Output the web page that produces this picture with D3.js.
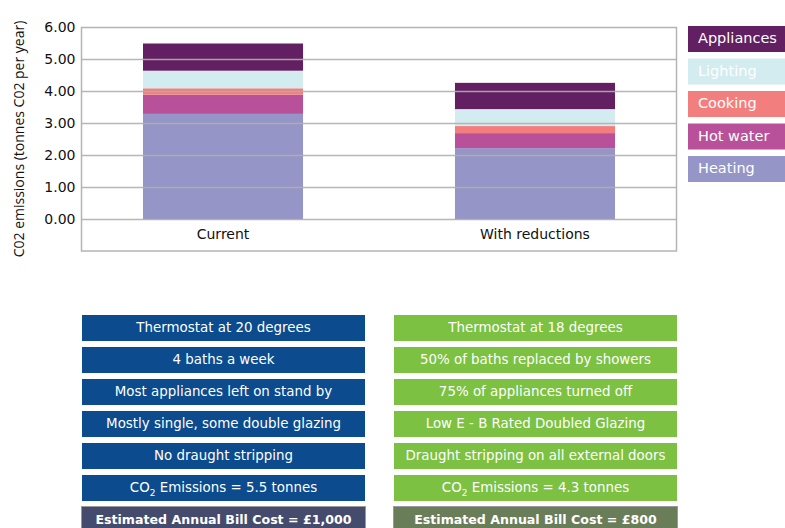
<!DOCTYPE html>
<html><head><meta charset="utf-8">
<script src="https://cdn.jsdelivr.net/npm/d3@7"></script>
<style>body{margin:0;background:#fff}svg{display:block}</style>
</head><body>
<svg id="c" width="785" height="528"></svg>
<script>
const categories = ["Current", "With reductions"];
const seriesNames = ["Heating", "Hot water", "Cooking", "Lighting", "Appliances"];
const heating   = [3.30, 2.23];
const hotWater  = [0.60, 0.47];
const cooking   = [0.20, 0.22];
const lighting  = [0.55, 0.53];
const appliances= [0.85, 0.82];
const colors = ["#9595c7", "#b8519a", "#f37e7e", "#d3ecf0", "#622062"];
const yTicks = [0, 1, 2, 3, 4, 5, 6];
const currentItems = ["Thermostat at 20 degrees", "4 baths a week", "Most appliances left on stand by",
  "Mostly single, some double glazing", "No draught stripping", "CO2 Emissions = 5.5 tonnes"];
const reducedItems = ["Thermostat at 18 degrees", "50% of baths replaced by showers", "75% of appliances turned off",
  "Low E - B Rated Doubled Glazing", "Draught stripping on all external doors", "CO2 Emissions = 4.3 tonnes"];
const billLabels = ["Estimated Annual Bill Cost = £1,000", "Estimated Annual Bill Cost = £800"];

const FONT = "DejaVu Sans";
const svg = d3.select("#c");
const plot = {l: 81.5, r: 676.5, t: 27.5, b: 251};
const y = d3.scaleLinear().domain([0, 6]).range([219.5, 27.5]);
const x = d3.scaleBand().domain(categories).range([67, 691]).paddingInner(0.487).paddingOuter(0.2436);

const rows = categories.map((c, i) => ({cat: c, Heating: heating[i], "Hot water": hotWater[i], Cooking: cooking[i], Lighting: lighting[i], Appliances: appliances[i]}));
const stack = d3.stack().keys(seriesNames)(rows);

svg.append("rect").attr("x", plot.l).attr("y", plot.t).attr("width", plot.r - plot.l).attr("height", plot.b - plot.t)
  .attr("fill", "#fff").attr("stroke", "#b4b4b4").attr("stroke-width", 1.5);

svg.append("g").selectAll("g").data(stack).join("g").attr("fill", (d, i) => colors[i])
  .selectAll("rect").data(d => d).join("rect")
  .attr("x", d => x(d.data.cat)).attr("width", x.bandwidth())
  .attr("y", d => y(d[1])).attr("height", d => y(d[0]) - y(d[1]));

svg.append("g").selectAll("line").data(yTicks.slice(0, -1)).join("line")
  .attr("x1", plot.l).attr("x2", plot.r).attr("y1", d => y(d)).attr("y2", d => y(d))
  .attr("stroke", "#b0b0b0").attr("stroke-width", 1.5).attr("opacity", 0.9);

const yAxis = d3.axisLeft(y).tickValues(yTicks).tickFormat(d3.format(".2f")).tickSize(0).tickPadding(6);
const ga = svg.append("g").attr("transform", `translate(${plot.l},0)`).call(yAxis);
ga.select(".domain").remove();
ga.selectAll("text").attr("font-family", FONT).attr("font-size", 14).attr("fill", "#111");

const xAxis = d3.axisBottom(x).tickSize(0).tickPadding(10);
const gx = svg.append("g").attr("transform", `translate(0,${y(0)})`).call(xAxis);
gx.select(".domain").remove();
gx.selectAll("text").attr("font-family", FONT).attr("font-size", 14).attr("fill", "#111");

svg.append("text").attr("transform", "translate(24,139) rotate(-90)").attr("text-anchor", "middle")
  .attr("font-family", "Open Sans").attr("font-size", 14).attr("fill", "#111")
  .text("C02 emissions (tonnes C02 per year)");

const leg = svg.append("g");
seriesNames.slice().reverse().forEach((s, i) => {
  const ci = seriesNames.indexOf(s);
  const g = leg.append("g").attr("transform", `translate(688,${26 + i * 32.5})`);
  g.append("rect").attr("width", 100).attr("height", 26).attr("fill", colors[ci]);
  g.append("text").attr("x", 10).attr("y", 17).attr("font-family", FONT).attr("font-size", 14.5)
    .attr("fill", "#fff").text(s);
});

function column(items, x0, color, bill, billColor) {
  const w = 283;
  items.forEach((t, i) => {
    const y0 = 315 + i * 32;
    svg.append("rect").attr("x", x0).attr("y", y0).attr("width", w).attr("height", 26).attr("fill", color);
    const tx = svg.append("text").attr("x", x0 + w / 2).attr("y", y0 + 17).attr("text-anchor", "middle")
      .attr("font-family", FONT).attr("font-size", 13.4).attr("fill", "#fff");
    if (t.startsWith("CO2")) {
      tx.append("tspan").text("CO");
      tx.append("tspan").attr("font-size", 9).attr("dy", 4).text("2");
      tx.append("tspan").attr("dy", -4).text(t.slice(3));
    } else tx.text(t);
  });
  const yb = 315 + 6 * 32;
  svg.append("rect").attr("x", x0 - 0.5).attr("y", yb - 0.5).attr("width", w + 1).attr("height", 30)
    .attr("fill", billColor).attr("stroke", "#9a9a9a").attr("stroke-width", 1);
  svg.append("text").attr("x", x0 + w / 2).attr("y", yb + 16.5).attr("text-anchor", "middle")
    .attr("font-family", FONT).attr("font-weight", "bold").attr("font-size", 12.6).attr("fill", "#fff").text(bill);
}
column(currentItems, 82, "#0b4b8e", billLabels[0], "#454b6d");
column(reducedItems, 394, "#7cc142", billLabels[1], "#6a7d59");
</script>
</body></html>
